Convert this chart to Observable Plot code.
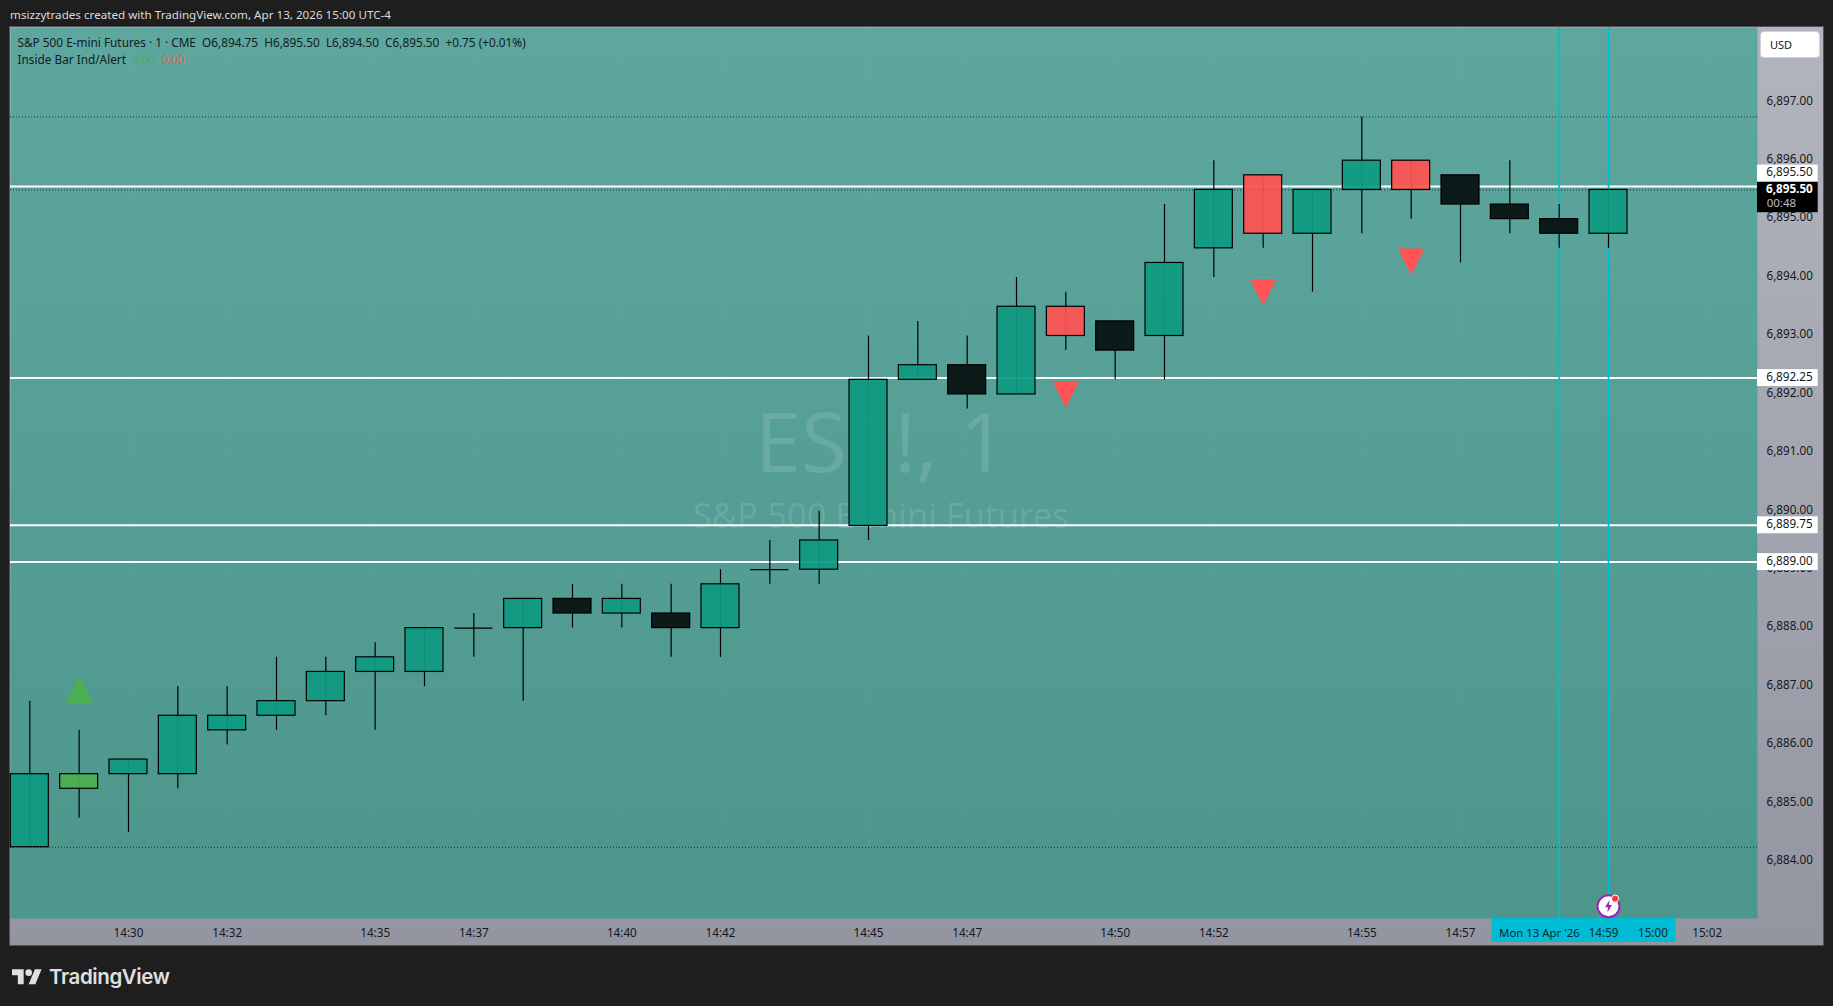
<!DOCTYPE html>
<html><head><meta charset="utf-8">
<script src="https://cdn.jsdelivr.net/npm/d3@7"></script>
<script src="https://cdn.jsdelivr.net/npm/@observablehq/plot@0.6"></script>
<style>
html,body{margin:0;padding:0;background:#1e1e1e;width:1833px;height:1006px;overflow:hidden;font-family:"Noto Sans",sans-serif}
.abs{position:absolute;white-space:pre}
#frame{position:absolute;left:9px;top:26px;width:1815px;height:920px;box-sizing:border-box;border:1px solid #505257}
#chart{position:absolute;left:10px;top:27px}
#chart svg{display:block}
</style></head><body>
<div class="abs" id="head" style="left:10px;top:5.5px;font-size:11.65px;line-height:18px;color:#d8dade">msizzytrades created with TradingView.com, Apr 13, 2026 15:00 UTC-4</div>
<div id="frame"></div>
<div id="chart"></div>
<div class="abs" style="left:17.5px;top:33px;font-size:11.8px;line-height:18px;color:#10201e">S&amp;P 500 E-mini Futures · 1 · CME  O6,894.75  H6,895.50  L6,894.50  C6,895.50  +0.75 (+0.01%)</div>
<div class="abs" style="left:17.5px;top:50px;font-size:11.8px;line-height:18px;color:#10201e">Inside Bar Ind/Alert  <span style="color:#4caf50">0.00</span>  <span style="color:#ff5252">0.00</span></div>
<div class="abs" style="left:1760px;top:31px;width:60px;height:27px;box-sizing:border-box;background:#fff;border:1px solid #d0d2d8;border-radius:4px;font-size:11px;line-height:25px;padding-left:9px;color:#131722">USD</div>
<svg class="abs" style="left:12px;top:966px" width="30" height="23.4" viewBox="0 0 36 28"><path fill="#e0e0e0" d="M14 22H7V11H0V4h14v18zM28 22h-8l7.5-18h8L28 22z"/><circle fill="#e0e0e0" cx="20" cy="8" r="4"/></svg>
<div class="abs" style="left:49px;top:964px;font-family:Inter,sans-serif;font-weight:600;font-size:20.5px;line-height:26px;letter-spacing:-0.4px;color:#e0e0e0">TradingView</div>
<script>
const times = ["14:28","14:29","14:30","14:31","14:32","14:33","14:34","14:35","14:36","14:37","14:38","14:39","14:40","14:41","14:42","14:43","14:44","14:45","14:46","14:47","14:48","14:49","14:50","14:51","14:52","14:53","14:54","14:55","14:56","14:57","14:58","14:59","15:00"];
const opens = [6884.25,6885.25,6885.5,6885.5,6886.25,6886.5,6886.75,6887.25,6887.25,6888,6888,6888.5,6888.25,6888.25,6888,6889,6889,6889.75,6892.25,6892.5,6892,6893.5,6893.25,6893,6894.5,6895.75,6894.75,6895.5,6896,6895.75,6895.25,6895,6894.75];
const highs = [6886.75,6886.25,6885.75,6887,6887,6887.5,6887.5,6887.75,6888,6888.25,6888.5,6888.75,6888.75,6888.75,6889,6889.5,6890,6893,6893.25,6893,6894,6893.75,6893.25,6895.25,6896,6895.75,6895.5,6896.75,6896,6895.75,6896,6895.25,6895.5];
const lows  = [6884.25,6884.75,6884.5,6885.25,6886,6886.25,6886.5,6886.25,6887,6887.5,6886.75,6888,6888,6887.5,6887.5,6888.75,6888.75,6889.5,6892.25,6891.75,6892,6892.75,6892.25,6892.25,6894,6894.5,6893.75,6894.75,6895,6894.25,6894.75,6894.5,6894.5];
const closes= [6885.5,6885.5,6885.75,6886.5,6886.5,6886.75,6887.25,6887.5,6888,6888,6888.5,6888.25,6888.5,6888,6888.75,6889,6889.5,6892.25,6892.5,6892,6893.5,6893,6892.75,6894.25,6895.5,6894.75,6895.5,6896,6895.5,6895.25,6895,6894.75,6895.5];
const kinds = ["u","l","u","u","u","u","u","u","u","u","u","b","u","b","u","u","u","u","u","b","u","r","b","u","u","r","u","u","r","b","b","b","u"];
const fills = {u:"#0f9a81", l:"#4caf50", b:"#0c1a19", r:"#ff5252"};

const priceTicks = [6884,6885,6886,6887,6888,6889,6890,6891,6892,6893,6894,6895,6896,6897];
const timeTicks = ["14:30","14:32","14:35","14:37","14:40","14:42","14:45","14:47","14:50","14:52","14:55","14:57","15:02"];
const whiteLines = [6895.56,6892.28,6889.76,6889.13];
const dottedLines = [6896.75,6895.5,6884.25];
const cursorTimes = ["14:59","15:00"];
const tagTexts  = ["6,895.50","6,892.25","6,889.75","6,889.00"];
const tagValues = [6895.78,6892.28,6889.76,6889.13];
const markUp = [{time:"14:29",price:6886.95}];
const markDown = [{time:"14:49",price:6892},{time:"14:53",price:6893.75},{time:"14:56",price:6894.27}];

const T = (s, sec = 0) => { const [h,m] = s.split(":").map(Number); return new Date(Date.UTC(2026,3,13,h,m,sec)); };
const candles = times.map((s,i)=>({t:T(s),a:new Date(+T(s)-23100),b:new Date(+T(s)+23100),open:opens[i],high:highs[i],low:lows[i],close:closes[i],kind:kinds[i]}));
const bodies = candles.filter(d=>d.open!==d.close);
const dojis = candles.filter(d=>d.open===d.close);
const yBot = 6883.03, yTop = 6898.28;
const xEnd = new Date(+T("15:03")+1200), tagEnd = new Date(+T("15:04")+15000), tagText = new Date(+T("15:03")+40000);

const tri = {draw(c,s){const h=Math.sqrt(s)/2;c.moveTo(0,-h);c.lineTo(h,h);c.lineTo(-h,h);c.closePath();}};
const bolt = {draw(c,s){const h=Math.sqrt(s)/2;[[.15,-1],[-.55,.15],[-.08,.15],[-.18,1],[.55,-.2],[.08,-.2]].forEach(([x,y],i)=>i?c.lineTo(x*h,y*h):c.moveTo(x*h,y*h));c.closePath();}};

const defs = () => {
  const ns="http://www.w3.org/2000/svg";
  const d=document.createElementNS(ns,"defs");
  d.innerHTML='<linearGradient id="pane" x1="0" x2="0" y1="0" y2="1"><stop offset="0" stop-color="#5da79e"/><stop offset="1" stop-color="#4d968c"/></linearGradient>';
  return d;
};
const tags = tagTexts.map((s,i)=>({s,v:tagValues[i]}));

const plot = Plot.plot({
  width:1813, height:918,
  marginLeft:0, marginRight:66, marginTop:0, marginBottom:27,
  style:{background:"linear-gradient(#b2b5be,#9396a0)",fontFamily:'"Noto Sans",sans-serif',overflow:"visible"},
  x:{type:"utc",domain:[new Date(+T("14:28")-23500),xEnd],label:null},
  y:{domain:[yBot,yTop],label:null},
  marks:[
    defs,
    Plot.frame({fill:"url(#pane)",stroke:"none"}),
    Plot.gridX({ticks:timeTicks.map(s=>T(s)),stroke:"#fff",strokeOpacity:0.03}),
    Plot.gridY({ticks:priceTicks,stroke:"#fff",strokeOpacity:0.03}),
    Plot.text(["ES1!, 1"],{x:[T("14:45",15)],y:[6891.12],text:d=>d,fontSize:83,fontFamily:'"Open Sans"',fill:"#fff",fillOpacity:0.12}),
    Plot.text(["S&P 500 E-mini Futures"],{x:[T("14:45",15)],y:[6889.91],text:d=>d,fontSize:34.7,fontFamily:'"Open Sans"',fill:"#fff",fillOpacity:0.12}),
    Plot.axisY({anchor:"right",ticks:priceTicks,tickSize:0,tickPadding:9,tickFormat:d3.format(",.2f"),dy:-1.5,fontSize:11.7,fill:"#131722",label:null}),
    Plot.axisX({anchor:"bottom",ticks:timeTicks.map(s=>T(s)),tickSize:0,tickPadding:10,tickFormat:d3.utcFormat("%H:%M"),fontSize:11.7,fill:"#131722",label:null}),
    Plot.ruleY(dottedLines,{stroke:"#16302c",strokeWidth:1,strokeDasharray:"1,2"}),
    Plot.ruleY(whiteLines,{stroke:"#fff",strokeWidth:2}),
    Plot.ruleX([T("14:59")],{y1:yBot,y2:yTop,stroke:"#00bcd4",strokeWidth:1.7}),
    Plot.ruleX([T("15:00")],{y1:6883.3,y2:yTop,stroke:"#00bcd4",strokeWidth:1.7}),
    Plot.ruleX(candles,{x:"t",y1:"low",y2:"high",stroke:"#000",strokeWidth:1.2}),
    Plot.rect(bodies,{x1:"a",x2:"b",y1:"open",y2:"close",fill:d=>fills[d.kind],fillOpacity:d=>d.kind==="b"?1:0.93,stroke:"#000",strokeWidth:1.2}),
    Plot.ruleY(dojis,{y:"close",x1:"a",x2:"b",stroke:"#000",strokeWidth:1.2}),
    Plot.dot(markUp,{x:d=>T(d.time),y:"price",symbol:tri,r:15,fill:"#4caf50",stroke:"none"}),
    Plot.dot(markDown,{x:d=>T(d.time),y:"price",symbol:tri,r:15,rotate:180,fill:"#ff5252",stroke:"none"}),
    Plot.rect(tags,{x1:xEnd,x2:tagEnd,y1:d=>d.v-0.145,y2:d=>d.v+0.145,fill:"#fff"}),
    Plot.text(tags,{x:tagText,y:"v",text:"s",dy:-1,fontSize:11.7,fill:"#131722"}),
    Plot.rect([0],{x1:xEnd,x2:tagEnd,y1:6895.11,y2:6895.63,fill:"#000"}),
    Plot.text(["6,895.50"],{x:tagText,y:6895.51,text:d=>d,fontSize:11.7,fontWeight:700,fill:"#fff"}),
    Plot.text(["00:48"],{x:tagText,y:6895.27,text:d=>d,fontSize:11.5,fill:"#bdbdbd",dx:-8}),
    Plot.rect([0],{x1:new Date(+T("14:57")+38000),x2:new Date(+T("15:01")+22000),y1:6882.62,y2:yBot,fill:"#00bcd4"}),
    Plot.text(["Mon 13 Apr '26"],{x:new Date(+T("14:57")+96000),y:6882.78,text:d=>d,fontSize:11.4,fill:"#0a2a30"}),
    Plot.text(cursorTimes,{x:s=>new Date(+T(s)+54000),y:6882.78,text:d=>d,fontSize:11.7,fill:"#0a2a30"}),
    Plot.dot([0],{x:T("15:00"),y:6883.24,r:11,fill:"#fff",stroke:"#9c27b0",strokeWidth:2}),
    Plot.dot([0],{x:T("15:00"),y:6883.24,symbol:bolt,r:7,fill:"#9c27b0",stroke:"none"}),
    Plot.dot([0],{x:new Date(+T("15:00")+8000),y:6883.37,r:3.6,fill:"#f23645",stroke:"#fff",strokeWidth:1})
  ]
});
document.getElementById("chart").appendChild(plot);
</script>
</body></html>
